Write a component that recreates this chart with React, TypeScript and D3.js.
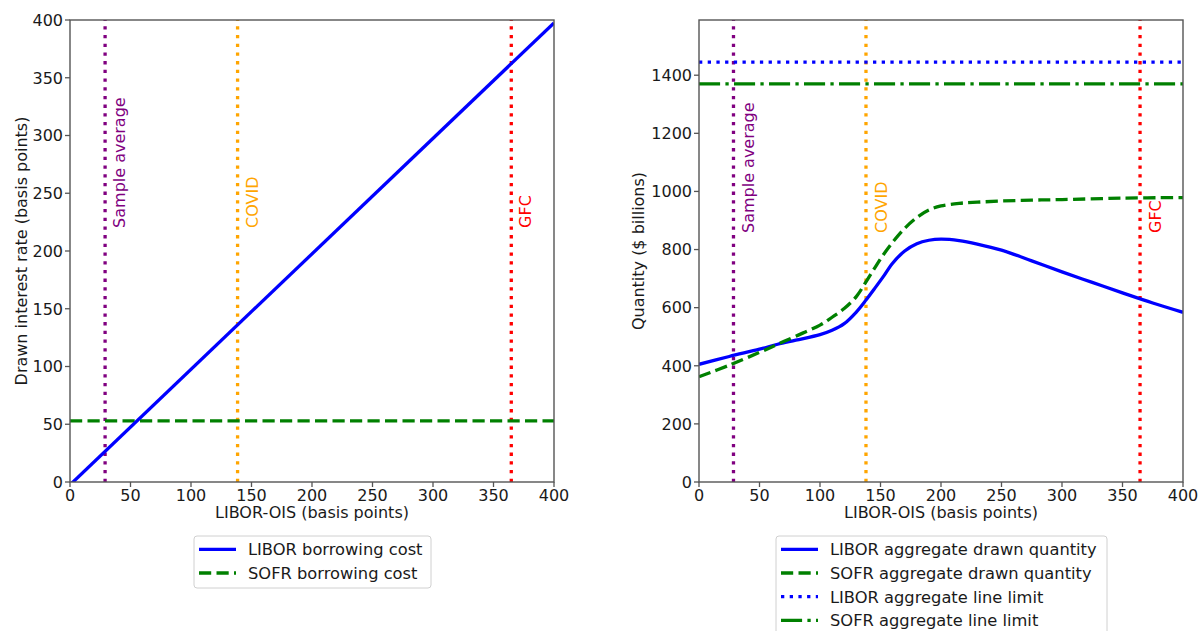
import React from "react";
import * as d3 from "d3";

// ---------- data ----------
const xTicks = [0, 50, 100, 150, 200, 250, 300, 350, 400];
const leftYTicks = [0, 50, 100, 150, 200, 250, 300, 350, 400];
const rightYTicks = [0, 200, 400, 600, 800, 1000, 1200, 1400];

const liborCostX = [0, 400];
const liborCostY = [-2.5, 397.5];
const sofrCost = 53;

const eventNames = ["Sample average", "COVID", "GFC"];
const eventColors = ["#800080", "#ffa500", "#ff0000"];
const eventXLeft = [29, 138.5, 364.7];
const eventXRight = [28.5, 138, 364.5];

const liborQtyX = [0, 25, 50, 65, 80, 100, 110, 120, 130, 138, 145, 152, 160, 170, 180, 190, 200, 215, 230, 250, 275, 300, 325, 350, 375, 400];
const liborQtyY = [405, 432, 457, 474, 488, 507, 522, 545, 585, 626, 665, 705, 753, 795, 820, 832, 836, 831, 819, 798, 761, 723, 687, 651, 616, 584];
const sofrQtyX = [0, 25, 50, 65, 80, 100, 110, 120, 130, 138, 145, 152, 160, 170, 180, 190, 200, 215, 230, 250, 275, 300, 350, 400];
const sofrQtyY = [362, 402, 446, 474, 502, 540, 567, 597, 638, 689, 735, 780, 825, 873, 910, 936, 950, 959, 963, 967, 970, 972, 977, 979];
const liborLimit = 1445;
const sofrLimit = 1370;

const leftLegend = ["LIBOR borrowing cost", "SOFR borrowing cost"];
const rightLegend = [
  "LIBOR aggregate drawn quantity",
  "SOFR aggregate drawn quantity",
  "LIBOR aggregate line limit",
  "SOFR aggregate line limit",
];

// ---------- styles ----------
const FONT = "DejaVu Sans, sans-serif";
const BLUE = "#0000ff";
const GREEN = "#008000";
const LW = 3.3;
const DOT = "3.3,5.4";
const DASH = "12.2,5.3";
const DASHDOT = "21.1,5.3,3.3,5.3";
const SPINE = "#555";

type Pt = [number, number];

function Axes({
  x0, x1, y0, y1, yDomain, yTicks, ylabel, ylabelX, children, id,
}: any) {
  const xs = d3.scaleLinear().domain([0, 400]).range([x0, x1]);
  const ys = d3.scaleLinear().domain(yDomain).range([y1, y0]);
  return (
    <g>
      <defs>
        <clipPath id={id}>
          <rect x={x0} y={y0} width={x1 - x0} height={y1 - y0} />
        </clipPath>
      </defs>
      <g clipPath={`url(#${id})`}>{children(xs, ys)}</g>
      <rect x={x0} y={y0} width={x1 - x0} height={y1 - y0} fill="none" stroke={SPINE} strokeWidth={1.4} />
      {xTicks.map((t) => (
        <g key={"x" + t}>
          <line x1={xs(t)} x2={xs(t)} y1={y1} y2={y1 + 5} stroke={SPINE} strokeWidth={1.3} />
          <text x={xs(t)} y={y1 + 18.7} textAnchor="middle" fontSize={16} fontFamily={FONT} fill="#1a1a1a">{t}</text>
        </g>
      ))}
      {yTicks.map((t: number) => (
        <g key={"y" + t}>
          <line x1={x0 - 5} x2={x0} y1={ys(t)} y2={ys(t)} stroke={SPINE} strokeWidth={1.3} />
          <text x={x0 - 7} y={ys(t)} dy="0.36em" textAnchor="end" fontSize={16} fontFamily={FONT} fill="#1a1a1a">{t}</text>
        </g>
      ))}
      <text x={(x0 + x1) / 2} y={518} textAnchor="middle" fontSize={16} fontFamily={FONT} fill="#1a1a1a">LIBOR-OIS (basis points)</text>
      <text transform={`translate(${ylabelX},${(y0 + y1) / 2}) rotate(-90)`} textAnchor="middle" fontSize={16} fontFamily={FONT} fill="#1a1a1a">{ylabel}</text>
    </g>
  );
}

function Legend({ x, y, w, h, items, styles }: any) {
  return (
    <g>
      <rect x={x} y={y} width={w} height={h} rx={3} fill="#fff" fillOpacity={0.8} stroke="#d0d0d0" strokeWidth={1} />
      {items.map((s: string, i: number) => {
        const cy = y + 13.3 + i * 23.7;
        const st = styles[i];
        return (
          <g key={s}>
            <line x1={x + 5} x2={x + 42} y1={cy} y2={cy} stroke={st.c} strokeWidth={LW} strokeDasharray={st.d} />
            <text x={x + 54} y={cy} dy="0.36em" fontSize={16.3} fontFamily={FONT} fill="#1a1a1a">{s}</text>
          </g>
        );
      })}
    </g>
  );
}

export default function App() {
  const line = d3.line<Pt>().x((d) => d[0]).y((d) => d[1]);
  const curve = d3.line<Pt>().x((d) => d[0]).y((d) => d[1]).curve(d3.curveCatmullRom.alpha(0.5));

  return (
    <svg width={1201} height={631} style={{ position: "absolute", left: 0, top: 0, background: "#fff" }}>
      <rect width={1201} height={631} fill="#fff" />
      {/* left panel */}
      <Axes id="clipL" x0={70} x1={554} y0={20} y1={482} yDomain={[0, 400]} yTicks={leftYTicks}
        ylabel="Drawn interest rate (basis points)" ylabelX={26.7}>
        {(xs: any, ys: any) => (
          <g>
            {eventXLeft.map((v, i) => (
              <line key={i} x1={xs(v)} x2={xs(v)} y1={ys(0)} y2={ys(400)} stroke={eventColors[i]} strokeWidth={LW} strokeDasharray={DOT} />
            ))}
            <line x1={xs(0)} x2={xs(400)} y1={ys(sofrCost)} y2={ys(sofrCost)} stroke={GREEN} strokeWidth={LW} strokeDasharray={DASH} />
            <path d={line(liborCostX.map((v, i) => [xs(v), ys(liborCostY[i])] as Pt)) || ""} fill="none" stroke={BLUE} strokeWidth={LW} />
            {eventXLeft.map((v, i) => (
              <text key={"t" + i} transform={`translate(${xs(v) + 20},${ys(220)}) rotate(-90)`} fontSize={16} fontFamily={FONT} fill={eventColors[i]}>{eventNames[i]}</text>
            ))}
          </g>
        )}
      </Axes>
      {/* right panel */}
      <Axes id="clipR" x0={699} x1={1183} y0={20} y1={482} yDomain={[0, 1590]} yTicks={rightYTicks}
        ylabel="Quantity ($ billions)" ylabelX={644}>
        {(xs: any, ys: any) => (
          <g>
            {eventXRight.map((v, i) => (
              <line key={i} x1={xs(v)} x2={xs(v)} y1={ys(0)} y2={ys(1590)} stroke={eventColors[i]} strokeWidth={LW} strokeDasharray={DOT} />
            ))}
            <line x1={xs(0)} x2={xs(400)} y1={ys(liborLimit)} y2={ys(liborLimit)} stroke={BLUE} strokeWidth={LW} strokeDasharray={DOT} />
            <line x1={xs(0)} x2={xs(400)} y1={ys(sofrLimit)} y2={ys(sofrLimit)} stroke={GREEN} strokeWidth={LW} strokeDasharray={DASHDOT} />
            <path d={curve(liborQtyX.map((v, i) => [xs(v), ys(liborQtyY[i])] as Pt)) || ""} fill="none" stroke={BLUE} strokeWidth={LW} />
            <path d={curve(sofrQtyX.map((v, i) => [xs(v), ys(sofrQtyY[i])] as Pt)) || ""} fill="none" stroke={GREEN} strokeWidth={LW} strokeDasharray={DASH} />
            {eventXRight.map((v, i) => (
              <text key={"t" + i} transform={`translate(${xs(v) + 21},${ys(857)}) rotate(-90)`} fontSize={16} fontFamily={FONT} fill={eventColors[i]}>{eventNames[i]}</text>
            ))}
          </g>
        )}
      </Axes>
      <Legend x={194} y={536} w={237} h={52} items={leftLegend}
        styles={[{ c: BLUE, d: null }, { c: GREEN, d: DASH }]} />
      <Legend x={776} y={536} w={331} h={100} items={rightLegend}
        styles={[{ c: BLUE, d: null }, { c: GREEN, d: DASH }, { c: BLUE, d: DOT }, { c: GREEN, d: DASHDOT }]} />
    </svg>
  );
}
